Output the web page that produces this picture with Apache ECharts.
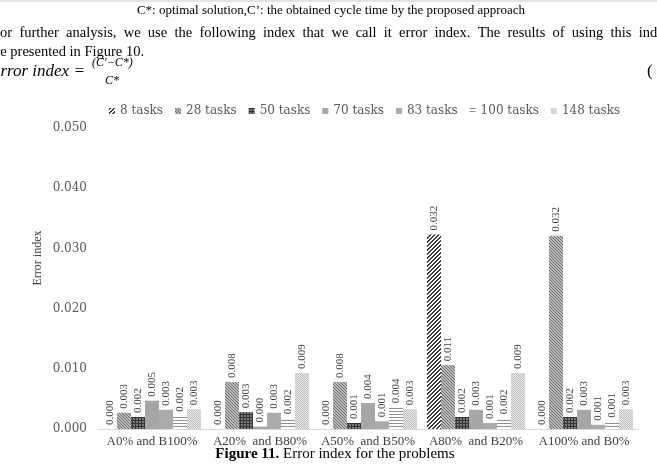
<!DOCTYPE html>
<html>
<head>
<meta charset="utf-8">
<script src="https://cdn.jsdelivr.net/npm/echarts@6/dist/echarts.min.js"></script>
<style>
  html, body { margin: 0; padding: 0; background: #fff; }
  #chart { width: 657px; height: 465px; }
</style>
</head>
<body>
<div id="chart"></div>
<script>
// categories and series
var categories = ['A0% and B100%', 'A20%  and B80%', 'A50%  and B50%', 'A80%  and B20%', 'A100% and B0%'];
var seriesNames = ['8 tasks', '28 tasks', '50 tasks', '70 tasks', '83 tasks', '100 tasks', '148 tasks'];
var tasks8 = [0.0000, 0.0000, 0.0000, 0.0323, 0.0000];
var tasks28 = [0.0027, 0.0078, 0.0078, 0.0106, 0.0321];
var tasks50 = [0.0020, 0.0028, 0.0010, 0.0020, 0.0020];
var tasks70 = [0.0047, 0.0004, 0.0043, 0.0032, 0.0032];
var tasks83 = [0.0032, 0.0027, 0.0013, 0.0010, 0.0007];
var tasks100 = [0.0022, 0.0018, 0.0036, 0.0018, 0.0012];
var tasks148 = [0.0033, 0.0093, 0.0033, 0.0093, 0.0033];
var yTicks = [0, 0.01, 0.02, 0.03, 0.04, 0.05];

// small pattern tiles, like the Excel fills
function tile(w, h, fn) {
  var c = document.createElement('canvas');
  c.width = w; c.height = h;
  var ctx = c.getContext('2d');
  for (var y = 0; y < h; y++) {
    for (var x = 0; x < w; x++) {
      ctx.fillStyle = fn(x, y);
      ctx.fillRect(x, y, 1, 1);
    }
  }
  return { image: c, repeat: 'repeat' };
}
var fills = [
  tile(4, 4, function (x, y) { return (x + y) % 4 < 2 ? '#3a3a3a' : '#ffffff'; }),     // wide diagonal
  tile(3, 3, function (x, y) { return (x - y + 3) % 3 === 0 ? '#6a6a6a' : '#bdbdbd'; }), // fine diagonal
  tile(3, 3, function (x, y) { return (x === 0 || y === 0) ? '#333333' : '#7a7a7a'; }),  // dark grid
  '#a6a6a6',
  '#ababab',
  tile(1, 3, function (x, y) { return y === 0 ? '#8f8f8f' : '#ffffff'; }),               // horizontal
  tile(2, 2, function (x, y) { return (x + y) % 2 === 0 ? '#bdbdbd' : '#ececec'; })      // light dots
];
var allData = [tasks8, tasks28, tasks50, tasks70, tasks83, tasks100, tasks148];

var chart = echarts.init(document.getElementById('chart'));

var series = [];
for (var i = 0; i < seriesNames.length; i++) {
  series.push({
    name: seriesNames[i],
    type: 'bar',
    data: allData[i],
    barWidth: 14,
    barGap: '0%',
    itemStyle: { color: fills[i] },
    label: {
      show: true,
      position: 'top',
      rotate: 90,
      align: 'left',
      verticalAlign: 'middle',
      distance: 4,
      color: '#404040',
      fontFamily: 'Liberation Serif',
      fontSize: 11,
      formatter: function (p) { return p.value.toFixed(3); }
    }
  });
}

var serif = 'Liberation Serif';
// justified paragraph line: widen the word gaps with en spaces
var paraLine = 'For further analysis, we use the following index that we call it error index. The results of using this index'.split(' ').join('\u2002');

chart.setOption({
  animation: false,
  backgroundColor: '#fff',
  legend: {
    data: seriesNames,
    left: 104,
    top: 100,
    icon: 'rect',
    itemWidth: 6,
    itemHeight: 6,
    itemGap: 12,
    textStyle: { fontFamily: 'DejaVu Serif', fontSize: 12, color: '#595959' }
  },
  grid: { left: 98, right: 19, top: 128, bottom: 36 },
  xAxis: {
    type: 'category',
    data: categories,
    axisLine: { lineStyle: { color: '#d9d9d9' } },
    axisTick: { show: false },
    axisLabel: { fontFamily: serif, fontSize: 13, color: '#404040', margin: 6, interval: 0 }
  },
  yAxis: {
    type: 'value',
    min: yTicks[0],
    max: yTicks[yTicks.length - 1],
    interval: 0.01,
    axisLine: { show: false },
    axisTick: { show: false },
    splitLine: { show: false },
    axisLabel: {
      fontFamily: 'DejaVu Serif', fontSize: 12, color: '#595959', margin: 11,
      formatter: function (v) { return v.toFixed(3); }
    }
  },
  graphic: [
    { type: 'line', shape: { x1: 0, y1: 1, x2: 657, y2: 1 }, style: { stroke: '#c8c8c8', lineWidth: 1 } },
    { type: 'text', x: 331, y: 11, style: { text: 'C*: optimal solution,C\u2019: the obtained cycle time by the proposed approach', font: '13px "Liberation Serif"', fill: '#000', align: 'center', verticalAlign: 'middle' } },
    { type: 'text', x: -8, y: 33, style: { text: paraLine, font: '14.5px "Liberation Serif"', fill: '#000', verticalAlign: 'middle' } },
    { type: 'text', x: -11, y: 52, style: { text: 'are presented in Figure 10.', font: '14.5px "Liberation Serif"', fill: '#000', verticalAlign: 'middle' } },
    { type: 'text', x: -10, y: 72, style: { text: 'Error index =', font: 'italic 17px "Liberation Serif"', fill: '#000', verticalAlign: 'middle' } },
    { type: 'text', x: 92, y: 63, style: { text: '(C\u2032\u2212C*)', font: 'italic 12px "Liberation Serif"', fill: '#000', verticalAlign: 'middle' } },
    { type: 'text', x: 105, y: 81, style: { text: 'C*', font: 'italic 12px "Liberation Serif"', fill: '#000', verticalAlign: 'middle' } },
    { type: 'text', x: 647, y: 72, style: { text: '(', font: '17px "Liberation Serif"', fill: '#000', verticalAlign: 'middle' } },
    { type: 'text', x: 38, y: 258, rotation: Math.PI / 2, style: { text: 'Error index', font: '12px "Liberation Serif"', fill: '#404040', align: 'center', verticalAlign: 'middle' } },
    {
      type: 'text', x: 335, y: 454,
      style: {
        text: '{b|Figure 11.}{n| Error index for the problems}',
        align: 'center', verticalAlign: 'middle',
        rich: {
          b: { fontFamily: serif, fontSize: 15, fontWeight: 'bold', fill: '#000' },
          n: { fontFamily: serif, fontSize: 15, fill: '#000' }
        }
      }
    }
  ],
  series: series
});
</script>
</body>
</html>
